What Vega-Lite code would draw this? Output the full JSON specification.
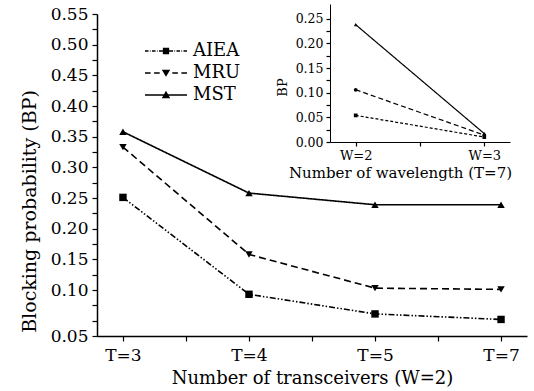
{
  "$schema": "https://vega.github.io/schema/vega-lite/v6.json",
  "autosize": {"type": "none"},
  "width": 430,
  "height": 322,
  "padding": {"left": 97, "top": 14, "right": 7, "bottom": 55},
  "config": {
    "font": "DejaVu Serif",
    "view": {"stroke": null},
    "axis": {"domainColor": "black", "tickColor": "black", "labelColor": "black", "titleColor": "black", "grid": false, "titleFontWeight": "normal", "domainWidth": 1.5, "tickWidth": 1.2, "labelOverlap": false, "labelFlush": false, "labelBound": false}
  },
  "datasets": {
    "main": [
      {"T": "T=3", "series": "AIEA", "bp": 0.251},
      {"T": "T=4", "series": "AIEA", "bp": 0.093},
      {"T": "T=5", "series": "AIEA", "bp": 0.061},
      {"T": "T=7", "series": "AIEA", "bp": 0.052},
      {"T": "T=3", "series": "MRU", "bp": 0.333},
      {"T": "T=4", "series": "MRU", "bp": 0.158},
      {"T": "T=5", "series": "MRU", "bp": 0.103},
      {"T": "T=7", "series": "MRU", "bp": 0.101},
      {"T": "T=3", "series": "MST", "bp": 0.358},
      {"T": "T=4", "series": "MST", "bp": 0.258},
      {"T": "T=5", "series": "MST", "bp": 0.239},
      {"T": "T=7", "series": "MST", "bp": 0.239}
    ],
    "inset": [
      {"W": "W=2", "series": "AIEA", "bp": 0.054},
      {"W": "W=3", "series": "AIEA", "bp": 0.010},
      {"W": "W=2", "series": "MRU", "bp": 0.106},
      {"W": "W=3", "series": "MRU", "bp": 0.014},
      {"W": "W=2", "series": "MST", "bp": 0.238},
      {"W": "W=3", "series": "MST", "bp": 0.017}
    ]
  },
  "layer": [
    {
      "data": {"name": "main"},
      "layer": [
        {
          "mark": {"type": "line", "color": "black", "strokeWidth": 1.6},
          "encoding": {
            "x": {"field": "T", "type": "ordinal", "scale": {"type": "point", "padding": 0.206},
              "axis": {"orient": "bottom", "title": "Number of transceivers (W=2)", "titleFontSize": 18, "titlePadding": 6, "labelFontSize": 17, "labelAngle": 0, "tickSize": 5, "labelPadding": 6, "labelOverlap": false}},
            "y": {"field": "bp", "type": "quantitative", "scale": {"domain": [0.025, 0.55], "nice": false, "zero": false},
              "axis": {"orient": "left", "title": "Blocking probability (BP)", "titleFontSize": 19, "titlePadding": 11, "titleY": 197, "titleAnchor": "middle", "labelFontSize": 17, "tickSize": 5, "labelPadding": 4, "labelOverlap": false,
                "values": [0.025, 0.1, 0.15, 0.2, 0.25, 0.3, 0.35, 0.4, 0.45, 0.5, 0.55],
                "labelExpr": "datum.value < 0.03 ? '0.05' : format(datum.value, '.2f')"}},
            "strokeDash": {"field": "series", "type": "nominal", "scale": {"domain": ["AIEA", "MRU", "MST"], "range": [[6, 2, 1.5, 2, 1.5, 2], [7, 4], [1, 0]]}, "legend": null}
          }
        },
        {
          "mark": {"type": "point", "filled": true, "color": "black", "opacity": 1},
          "encoding": {
            "x": {"field": "T", "type": "ordinal", "scale": {"type": "point", "padding": 0.206},
              "axis": {"orient": "bottom", "values": ["T=3", "T=4", "T=5"], "tickOffset": 63, "labels": false, "domain": false, "title": null, "tickSize": 5}},
            "y": {"field": "bp", "type": "quantitative", "scale": {"domain": [0.025, 0.55], "nice": false, "zero": false},
              "axis": {"orient": "left", "values": [0.05, 0.075, 0.125, 0.175, 0.225, 0.275, 0.325, 0.375, 0.425, 0.475, 0.525], "labels": false, "domain": false, "title": null, "tickSize": 5}},
            "shape": {"field": "series", "type": "nominal", "scale": {"domain": ["AIEA", "MRU", "MST"], "range": ["square", "triangle-down", "triangle-up"]}, "legend": null},
            "size": {"value": 55}
          }
        },
        {
          "mark": {"type": "point", "filled": true, "color": "black", "opacity": 0},
          "encoding": {
            "x": {"field": "T", "type": "ordinal", "scale": {"type": "point", "padding": 0.206}, "axis": null},
            "y": {"field": "bp", "type": "quantitative", "scale": {"domain": [0.025, 0.55], "nice": false, "zero": false}, "axis": null},
            "shape": {"field": "series", "type": "nominal",
              "scale": {"domain": ["AIEA", "MRU", "MST"], "range": [
                "M-3,-0.11L-2.5,-0.11L-2.5,0.11L-3,0.11ZM-2.3,-0.11L-2.2,-0.11L-2.2,0.11L-2.3,0.11ZM-2,-0.11L-1.5,-0.11L-1.5,0.11L-2,0.11ZM-1.3,-0.11L-1.2,-0.11L-1.2,0.11L-1.3,0.11ZM-1,-0.11L-0.45,-0.11L-0.45,0.11L-1,0.11ZM0.45,-0.11L1,-0.11L1,0.11L0.45,0.11ZM1.2,-0.11L1.3,-0.11L1.3,0.11L1.2,0.11ZM1.5,-0.11L2,-0.11L2,0.11L1.5,0.11ZM2.2,-0.11L2.3,-0.11L2.3,0.11L2.2,0.11ZM2.5,-0.11L3,-0.11L3,0.11L2.5,0.11ZM-0.45,-0.45L0.45,-0.45L0.45,0.45L-0.45,0.45Z",
                "M-3,-0.11L-2.2,-0.11L-2.2,0.11L-3,0.11ZM-1.7,-0.11L-0.9,-0.11L-0.9,0.11L-1.7,0.11ZM0.9,-0.11L1.7,-0.11L1.7,0.11L0.9,0.11ZM2.2,-0.11L3,-0.11L3,0.11L2.2,0.11ZM-0.6,-0.45L0.6,-0.45L0,0.55Z",
                "M-3,-0.11L-0.3,-0.11L-0.3,0.11L-3,0.11ZM0.3,-0.11L3,-0.11L3,0.11L0.3,0.11ZM-0.6,0.45L0,-0.6L0.6,0.45Z"
              ]},
              "legend": {"title": null, "orient": "none", "legendX": 60, "legendY": 28, "symbolSize": 196, "symbolFillColor": "black", "symbolStrokeColor": "black", "symbolStrokeWidth": 0, "symbolOpacity": 1, "labelFontSize": 18, "labelOffset": 18, "rowPadding": 4, "padding": 0, "labelColor": "black"}
            }
          }
        }
      ],
      "resolve": {"scale": {"shape": "independent"}, "axis": {"x": "independent", "y": "independent"}}
    },
    {
      "data": {"name": "inset"},
      "layer": [
        {
          "mark": {"type": "line", "color": "black", "strokeWidth": 1.2},
          "encoding": {
            "x": {"field": "W", "type": "ordinal", "scale": {"type": "point", "padding": 0.2, "range": [233, 413]},
              "axis": {"orient": "bottom", "offset": -194, "title": "Number of wavelength (T=7)", "titleFontSize": 15, "titlePadding": 3, "titleX": 303, "labelFontSize": 13, "labelAngle": 0, "tickSize": 4, "labelPadding": 3, "domainWidth": 1, "labelOverlap": false}},
            "y": {"field": "bp", "type": "quantitative", "scale": {"domain": [0, 0.28], "nice": false, "range": [128, -10]},
              "axis": {"orient": "left", "offset": -233, "title": "BP", "titleFontSize": 13, "titlePadding": 6, "titleY": 73, "labelFontSize": 12.5, "tickSize": 4, "labelPadding": 3, "domainWidth": 1, "labelOverlap": false,
                "values": [0, 0.05, 0.1, 0.15, 0.2, 0.25], "format": ".2f"}},
            "strokeDash": {"field": "series", "type": "nominal", "scale": {"domain": ["AIEA", "MRU", "MST"], "range": [[3, 2], [5, 3], [1, 0]]}, "legend": null}
          }
        },
        {
          "mark": {"type": "point", "filled": true, "color": "black", "opacity": 1},
          "encoding": {
            "x": {"field": "W", "type": "ordinal", "scale": {"type": "point", "padding": 0.2, "range": [233, 413]},
              "axis": {"orient": "bottom", "offset": -194, "values": ["W=2"], "tickOffset": 64, "labels": false, "domain": false, "title": null, "tickSize": 4}},
            "y": {"field": "bp", "type": "quantitative", "scale": {"domain": [0, 0.28], "nice": false, "range": [128, -10]},
              "axis": {"orient": "left", "offset": -233, "values": [0.025, 0.075, 0.125, 0.175, 0.225], "labels": false, "domain": false, "title": null, "tickSize": 4}},
            "shape": {"field": "series", "type": "nominal", "scale": {"domain": ["AIEA", "MRU", "MST"], "range": ["square", "circle", "triangle-up"]}, "legend": null},
            "size": {"value": 14}
          }
        }
      ],
      "resolve": {"axis": {"x": "independent", "y": "independent"}}
    }
  ],
  "resolve": {"scale": {"x": "independent", "y": "independent", "strokeDash": "independent", "shape": "independent"}}
}
